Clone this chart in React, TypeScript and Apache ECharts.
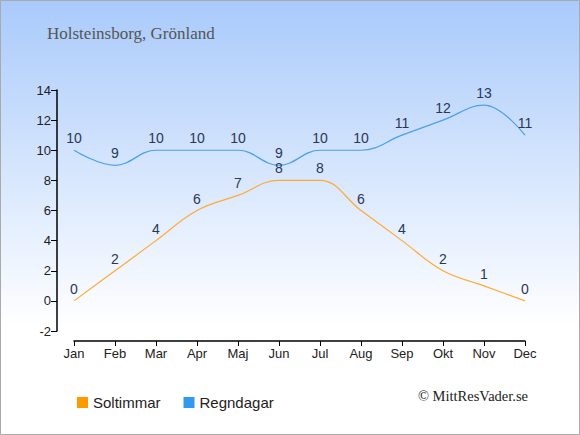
import React, { useEffect, useRef } from "react";
import * as echarts from "echarts";

const months = ["Jan", "Feb", "Mar", "Apr", "Maj", "Jun", "Jul", "Aug", "Sep", "Okt", "Nov", "Dec"];
const soltimmar = [0, 2, 4, 6, 7, 8, 8, 6, 4, 2, 1, 0];
const regndagar = [10, 9, 10, 10, 10, 9, 10, 10, 11, 12, 13, 11];
const yMin = -2;
const yMax = 14;
const yStep = 2;

export default function App() {
  const ref = useRef<HTMLDivElement>(null);
  useEffect(() => {
    document.body.style.margin = "0";
    if (!ref.current) return;
    const chart = echarts.init(ref.current, null, { renderer: "svg" });
    const labelStyle = {
      show: true,
      position: "top" as const,
      distance: 5,
      color: "#2a3856",
      fontSize: 14,
      fontFamily: "Liberation Sans, Arial, sans-serif",
    };
    chart.setOption({
      animation: false,
      backgroundColor: {
        type: "linear",
        x: 0, y: 0, x2: 0, y2: 1,
        colorStops: [
          { offset: 0, color: "#a9cafb" },
          { offset: 0.75, color: "#ffffff" },
          { offset: 1, color: "#ffffff" },
        ],
      },
      title: {
        text: "Holsteinsborg, Grönland",
        left: 42,
        top: 20,
        textStyle: {
          fontFamily: "Liberation Serif, DejaVu Serif, serif",
          fontWeight: "normal",
          fontSize: 17,
          color: "#555555",
        },
      },
      graphic: [
        {
          type: "rect",
          shape: { x: 0.5, y: 0.5, width: 579, height: 434 },
          style: { fill: "none", stroke: "#aaaaaa", lineWidth: 1 },
          silent: true,
        },
        {
          type: "text",
          right: 52,
          top: 388,
          style: {
            text: "© MittResVader.se",
            font: "14.5px 'Liberation Serif', serif",
            fill: "#222222",
          },
        },
      ],
      legend: {
        left: 72,
        top: 390,
        icon: "rect",
        itemWidth: 11,
        itemHeight: 11,
        itemGap: 23,
        textStyle: {
          fontSize: 15,
          color: "#222222",
          fontFamily: "Liberation Sans, Arial, sans-serif",
        },
        data: ["Soltimmar", "Regndagar"],
      },
      grid: { left: 74, right: 55, top: 90, bottom: 104, containLabel: false },
      xAxis: {
        type: "category",
        data: months,
        boundaryGap: false,
        offset: 10,
        axisLine: { onZero: false, lineStyle: { color: "#000", width: 1.5 } },
        axisTick: { alignWithLabel: true, length: 5, lineStyle: { color: "#000" } },
        axisLabel: {
          color: "#222",
          fontSize: 13,
          fontFamily: "Liberation Sans, Arial, sans-serif",
          margin: 6,
        },
        splitLine: { show: false },
      },
      yAxis: {
        type: "value",
        min: yMin,
        max: yMax,
        interval: yStep,
        offset: 17,
        axisLine: { show: true, lineStyle: { color: "#000", width: 1.5 } },
        axisTick: { show: true, length: 6, lineStyle: { color: "#000" } },
        axisLabel: {
          color: "#222",
          fontSize: 13,
          fontFamily: "Liberation Sans, Arial, sans-serif",
          margin: 6,
        },
        splitLine: { show: false },
      },
      series: [
        {
          name: "Soltimmar",
          type: "line",
          data: soltimmar,
          smooth: 0.4,
          symbol: "circle",
          symbolSize: 0,
          showSymbol: true,
          itemStyle: { color: "#ff9900" },
          lineStyle: { color: "#ffaa33", width: 1.2 },
          label: labelStyle,
        },
        {
          name: "Regndagar",
          type: "line",
          data: regndagar,
          smooth: 0.4,
          symbol: "circle",
          symbolSize: 0,
          showSymbol: true,
          itemStyle: { color: "#3399ee" },
          lineStyle: { color: "#4aa0ea", width: 1.2 },
          label: labelStyle,
        },
      ],
    });
    return () => chart.dispose();
  }, []);
  return <div ref={ref} style={{ width: 580, height: 435 }} />;
}
